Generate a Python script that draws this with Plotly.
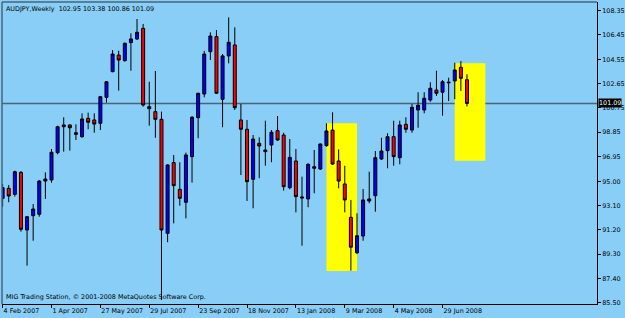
import plotly.graph_objects as go

# Weekly AUDJPY candles (bar index 0 = week of 4 Feb 2007)
opens = [93.67, 94.45, 93.98, 95.70, 91.19, 92.31, 92.42, 95.02, 95.10, 97.24,
         99.27, 99.41, 98.80, 98.49, 99.93, 99.80, 99.54, 101.57, 103.58, 104.88,
         104.44, 105.85, 106.14, 106.97, 100.68, 100.45, 99.85, 90.93, 96.46, 94.37,
         93.36, 96.93, 99.98, 101.83, 105.14, 106.32, 101.42, 104.81, 105.67, 99.80,
         99.07, 95.16, 97.97, 97.32, 97.84, 98.96, 98.62, 94.50, 96.59, 93.78,
         93.62, 96.02, 95.96, 97.79, 99.01, 96.59, 94.79, 92.18, 89.41, 90.72,
         93.46, 93.87, 96.75, 97.40, 98.49, 96.85, 99.46, 99.01, 100.58, 100.58,
         101.36, 102.14, 101.97, 102.70, 102.85, 103.92, 102.95]
highs = [94.79, 94.71, 95.83, 95.80, 92.29, 93.22, 95.10, 95.70, 97.53, 99.35,
         100.01, 99.45, 99.46, 100.32, 100.37, 100.32, 101.68, 102.85, 105.27, 105.22,
         105.85, 106.58, 107.70, 107.31, 102.79, 103.63, 100.45, 96.33, 97.06, 96.49,
         97.24, 100.11, 101.93, 105.20, 106.66, 106.84, 104.96, 107.83, 107.05, 101.05,
         99.80, 98.62, 98.44, 99.74, 99.01, 100.11, 98.80, 98.31, 97.53, 95.36,
         96.41, 97.45, 97.95, 99.54, 100.40, 97.50, 96.22, 93.54, 92.50, 94.40,
         95.75, 97.37, 98.41, 98.76, 99.74, 99.74, 100.01, 101.05, 101.97, 101.97,
         102.75, 103.65, 102.93, 103.11, 104.28, 104.41, 103.38]
lows = [93.01, 93.36, 93.80, 91.06, 88.40, 90.35, 92.23, 93.62, 94.89, 97.11,
        97.32, 97.40, 98.23, 98.41, 99.07, 98.80, 99.01, 101.15, 103.53, 102.09,
        104.36, 103.65, 106.06, 100.84, 99.35, 98.41, 85.71, 90.23, 91.71, 93.09,
        92.10, 94.89, 98.37, 101.57, 104.49, 101.83, 99.23, 104.23, 100.58, 95.49,
        93.46, 92.89, 95.24, 96.22, 96.49, 98.18, 94.27, 94.37, 92.57, 89.96,
        92.97, 94.06, 95.89, 97.71, 96.28, 94.45, 92.57, 88.01, 89.31, 90.35,
        93.28, 92.62, 96.67, 96.02, 96.22, 96.33, 98.80, 98.80, 99.19, 100.32,
        101.23, 101.68, 100.13, 101.28, 101.42, 102.07, 100.86]
closes = [94.50, 93.85, 95.75, 91.24, 92.23, 92.83, 95.02, 95.18, 97.27, 99.27,
          99.41, 99.19, 98.68, 99.88, 99.62, 99.48, 101.62, 102.79, 104.96, 104.49,
          105.80, 106.14, 106.66, 100.97, 100.84, 99.85, 91.19, 96.28, 94.66, 93.67,
          97.06, 100.01, 101.89, 104.96, 106.37, 101.89, 104.81, 105.88, 100.76, 99.07,
          94.97, 98.31, 97.76, 97.45, 98.84, 98.23, 94.58, 96.88, 93.80, 93.70,
          96.33, 96.14, 97.92, 98.94, 96.35, 95.02, 93.54, 89.84, 90.74, 93.54,
          93.62, 96.85, 97.37, 98.49, 96.93, 99.41, 99.07, 100.79, 100.95, 101.50,
          102.28, 101.89, 102.79, 102.75, 103.71, 103.06, 101.09]

x_tick_bars = [0, 8, 16, 24, 32, 40, 48, 56, 64, 72]
x_tick_labels = ["4 Feb 2007", "1 Apr 2007", "27 May 2007", "29 Jul 2007", "23 Sep 2007",
                 "18 Nov 2007", "13 Jan 2008", "9 Mar 2008", "4 May 2008", "29 Jun 2008"]
y_tick_vals = [85.50, 87.40, 89.30, 91.20, 93.10, 95.00, 96.95, 98.85, 100.75,
               102.65, 104.55, 106.45, 108.35]
y_tick_labels = ["%.2f" % v for v in y_tick_vals]

bid_price = 101.09
box1_bars = [53, 58]
box1_prices = [87.98, 99.54]
box2_bars = [74, 79]
box2_prices = [96.61, 104.23]

title_text = "AUDJPY,Weekly  102.95 103.38 100.86 101.09"
copyright_text = "MIG Trading Station, \u00a9 2001-2008 MetaQuotes Software Corp."

BG = "#88CEF6"
FONT = "DejaVu Sans"
FS = 6.4

bars = list(range(len(opens)))

fig = go.Figure()
fig.add_trace(go.Candlestick(
    x=bars, open=opens, high=highs, low=lows, close=closes,
    increasing=dict(fillcolor="#0000FF", line=dict(color="#000000", width=1)),
    decreasing=dict(fillcolor="#FF0000", line=dict(color="#000000", width=1)),
    showlegend=False, hoverinfo="skip",
))

shapes = [
    dict(type="rect", xref="x", yref="y", x0=box1_bars[0], x1=box1_bars[1],
         y0=box1_prices[0], y1=box1_prices[1], fillcolor="#FFFF00",
         line=dict(width=0), layer="below"),
    dict(type="rect", xref="x", yref="y", x0=box2_bars[0], x1=box2_bars[1],
         y0=box2_prices[0], y1=box2_prices[1], fillcolor="#FFFF00",
         line=dict(width=0), layer="below"),
    dict(type="line", xref="paper", yref="y", x0=0, x1=1, y0=bid_price, y1=bid_price,
         line=dict(color="#4A6478", width=1.6), layer="below"),
    dict(type="line", xref="paper", yref="paper", x0=0, x1=1, y0=1, y1=1,
         line=dict(color="#4A6478", width=1.5), layer="above"),
    dict(type="line", xref="paper", yref="paper", x0=0, x1=0, y0=0, y1=1,
         line=dict(color="#4A6478", width=1.5), layer="above"),
]

annotations = [
    dict(text=title_text, xref="paper", yref="paper", x=0, y=1, xanchor="left",
         yanchor="top", xshift=2, yshift=-1, showarrow=False,
         font=dict(family=FONT, size=FS, color="#000000")),
    dict(text=copyright_text, xref="paper", yref="paper", x=0, y=0, xanchor="left",
         yanchor="bottom", xshift=2, yshift=1, showarrow=False,
         font=dict(family=FONT, size=FS, color="#000000")),
    dict(text="%.2f" % bid_price, xref="paper", yref="y", x=1, y=bid_price,
         xanchor="left", yanchor="middle", xshift=1, showarrow=False,
         bgcolor="#000000", borderpad=0,
         font=dict(family=FONT, size=FS, color="#FFFFFF")),
]

fig.update_layout(
    width=625, height=318,
    margin=dict(l=2, r=28, t=2, b=14, autoexpand=False),
    paper_bgcolor=BG, plot_bgcolor=BG,
    shapes=shapes, annotations=annotations,
    showlegend=False,
    font=dict(family=FONT, size=FS, color="#000000"),
    xaxis=dict(
        range=[-0.1, 97.28], rangeslider=dict(visible=False),
        showgrid=False, zeroline=False, automargin=False,
        showline=True, linecolor="#000000", linewidth=1,
        ticks="outside", ticklen=3, tickcolor="#000000", tickwidth=1,
        tickvals=x_tick_bars, ticktext=x_tick_labels, tickangle=0,
        ticklabelposition="outside right",
        tickfont=dict(family=FONT, size=FS, color="#000000"),
    ),
    yaxis=dict(
        range=[85.399, 109.03], side="right",
        showgrid=False, zeroline=False, automargin=False,
        showline=True, linecolor="#000000", linewidth=1,
        ticks="outside", ticklen=3, tickcolor="#000000", tickwidth=1,
        tickvals=y_tick_vals, ticktext=y_tick_labels,
        tickfont=dict(family=FONT, size=FS, color="#000000"),
    ),
)

fig.write_html("out.html")
